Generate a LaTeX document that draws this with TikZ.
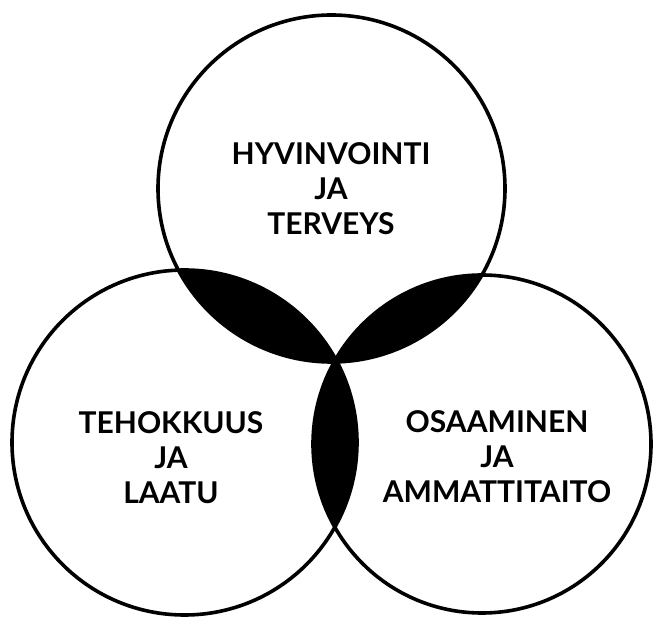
\documentclass[tikz,border=0pt]{standalone}
\usepackage{fontspec}
\setmainfont{Lato}
\begin{document}
\begin{tikzpicture}[x=1pt,y=-1pt,
  ring/.style={line width=3.6pt},
  lens/.style={fill=black},
  label/.style={font=\bfseries\fontsize{30}{35}\selectfont, align=center, inner sep=0pt, anchor=center}]
\useasboundingbox (0,0) rectangle (654,617);
\coordinate (ct) at (331.5,188.5);
\coordinate (cl) at (184.5,442.5);
\coordinate (cr) at (482,444);
% lenses
\begin{scope}
  \clip (ct) circle[radius=173.5];
  \fill[lens] (cl) circle[radius=172.5];
  \fill[lens] (cr) circle[radius=169];
\end{scope}
\begin{scope}
  \clip (cl) circle[radius=172.5];
  \fill[lens] (cr) circle[radius=169];
\end{scope}
% circles
\draw[ring] (ct) circle[radius=173.5];
\draw[ring] (cl) circle[radius=172.5];
\draw[ring] (cr) circle[radius=169];
% labels
\node[label] (ttop) at (331,189) {HYVINVOINTI\\JA\\TERVEYS};
\node[label] (tleft) at (171,458) {TEHOKKUUS\\JA\\LAATU};
\node[label] (tright) at (497,457) {OSAAMINEN\\JA\\AMMATTITAITO};
\end{tikzpicture}
\end{document}
